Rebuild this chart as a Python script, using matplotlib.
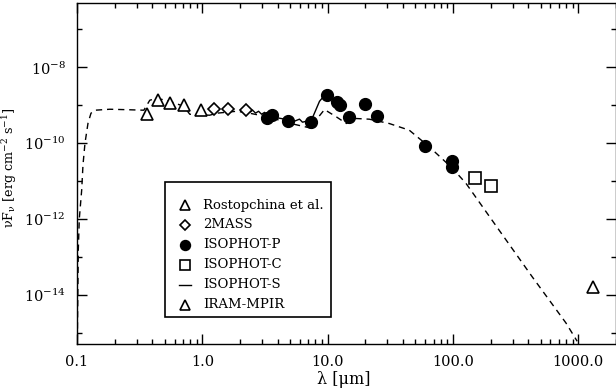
import matplotlib

matplotlib.use("Agg")

import matplotlib.pyplot as plt
from matplotlib.lines import Line2D
from matplotlib.patches import Rectangle
from matplotlib.ticker import FixedLocator, FixedFormatter, LogLocator, NullFormatter

# photometry (wavelength in micron, nuF_nu in erg cm^-2 s^-1)
rost_wl = [0.36, 0.44, 0.55, 0.71, 0.97]
rost_flux = [5.8e-10, 1.41e-9, 1.17e-9, 1.02e-9, 7.4e-10]

tmass_wl = [1.24, 1.59, 2.23]
tmass_flux = [7.85e-10, 8.0e-10, 7.4e-10]

isop_wl = [3.3, 3.6, 4.8, 7.3, 9.9, 11.9, 12.6, 14.9, 19.9, 24.8, 59.7, 99.0, 99.0]
isop_flux = [4.5e-10, 5.5e-10, 3.8e-10, 3.6e-10, 1.9e-9, 1.23e-9, 1.04e-9,
             4.9e-10, 1.11e-9, 5.1e-10, 8.5e-11, 3.4e-11, 2.3e-11]

isoc_wl = [150.0, 200.0]
isoc_flux = [1.17e-11, 7.4e-12]

iram_wl = [1300.0]
iram_flux = [1.55e-14]

# ISOPHOT-S spectrum
spec_wl = [2.18, 2.38, 2.52, 2.66, 2.81, 2.97, 3.14, 3.32, 3.57, 3.77, 4.13, 4.53,
           4.97, 5.44, 5.96, 6.30, 6.78, 7.30, 7.85, 8.61, 9.44, 9.96, 11.3]
spec_flux = [7.4e-10, 6.5e-10, 7.4e-10, 6.2e-10, 6.95e-10, 5.8e-10, 6.5e-10,
             5.1e-10, 5.8e-10, 4.8e-10, 4.55e-10, 4.3e-10, 3.8e-10, 3.8e-10,
             4.3e-10, 3.57e-10, 3.8e-10, 3.57e-10, 6.2e-10, 1.27e-9, 1.83e-9,
             1.95e-9, 1.35e-9]

# model SED (dashed)
model_wl = [0.1006, 0.1024, 0.1043, 0.109, 0.1116, 0.1158, 0.1224, 0.1293, 0.139,
            0.183, 0.264, 0.3415, 0.381, 0.434, 0.550, 0.711, 0.794, 1.145, 1.302,
            1.879, 2.385, 3.44, 4.96, 7.57, 8.30, 9.44, 11.76, 14.1, 16.9, 21.5,
            31.0, 44.8, 64.7, 98.6, 127.0, 233.0, 428.0, 797.0, 980.0]
model_flux = [6.5e-16, 1.53e-13, 1.0e-12, 5.8e-12, 2.64e-11, 1.0e-10, 3.36e-10,
              6.17e-10, 7.4e-10, 7.85e-10, 7.6e-10, 7.4e-10, 1.36e-9, 1.53e-9,
              1.27e-9, 9.4e-10, 5.8e-10, 5.46e-10, 6.17e-10, 6.95e-10, 6.17e-10,
              4.83e-10, 3.36e-10, 2.44e-10, 4.55e-10, 7.7e-10, 4.92e-10, 3.3e-10,
              4.47e-10, 4.29e-10, 3.3e-10, 2.2e-10, 8.0e-11, 2.2e-11, 8.7e-12,
              5.1e-13, 3.0e-14, 1.8e-15, 5.9e-16]

x_ticks = [0.1, 1.0, 10.0, 100.0, 1000.0]
x_ticklabels = ["0.1", "1.0", "10.0", "100.0", "1000.0"]
y_ticks = [1e-14, 1e-12, 1e-10, 1e-8]
y_ticklabels = [r"10$^{\mathregular{-14}}$", r"10$^{\mathregular{-12}}$",
                r"10$^{\mathregular{-10}}$", r"10$^{\mathregular{-8}}$"]

legend_labels = ["Rostopchina et al.", "2MASS", "ISOPHOT-P", "ISOPHOT-C",
                 "ISOPHOT-S", "IRAM-MPIR"]

plt.rcParams.update(
    {
        "font.family": "DejaVu Serif",
        "mathtext.fontset": "dejavuserif",
        "font.size": 10,
    }
)

fig = plt.figure(figsize=(6.16, 3.89), dpi=100, facecolor="white")
ax = fig.add_axes([77 / 616, 1 - 344 / 389, 539 / 616, 341 / 389])

ax.plot(model_wl, model_flux, ls=(0, (4.5, 3.5)), color="black", lw=1.0)
ax.plot(spec_wl, spec_flux, ls="-", color="black", lw=1.0)

open_kw = dict(ls="none", mfc="white", mec="black", mew=1.2)
ax.plot(rost_wl, rost_flux, marker="^", ms=9, **open_kw)
ax.plot(tmass_wl, tmass_flux, marker="D", ms=6.5, **open_kw)
ax.plot(isop_wl, isop_flux, marker="o", ls="none", ms=8.5, color="black")
ax.plot(isoc_wl, isoc_flux, marker="s", ms=8, **open_kw)
ax.plot(iram_wl, iram_flux, marker="^", ms=9, **open_kw)

ax.set_xscale("log")
ax.set_yscale("log")
ax.set_xlim(0.1, 2000)
ax.set_ylim(5e-16, 5e-7)

ax.xaxis.set_major_locator(FixedLocator(x_ticks))
ax.xaxis.set_major_formatter(FixedFormatter(x_ticklabels))
ax.xaxis.set_minor_locator(LogLocator(base=10, subs=range(2, 10)))
ax.xaxis.set_minor_formatter(NullFormatter())
ax.yaxis.set_major_locator(FixedLocator(y_ticks))
ax.yaxis.set_major_formatter(FixedFormatter(y_ticklabels))
ax.yaxis.set_minor_locator(FixedLocator([1e-15, 1e-13, 1e-11, 1e-9, 1e-7]))
ax.yaxis.set_minor_formatter(NullFormatter())

ax.tick_params(which="both", direction="in", top=True, right=True, width=1.0,
               labelsize=10.5)
ax.tick_params(which="major", length=7.2, pad=8)
ax.tick_params(which="minor", length=3.6)
for sp in ax.spines.values():
    sp.set_linewidth(1.0)

ax.set_xlabel("λ [μm]", fontsize=11.5)
ax.xaxis.set_label_coords(0.495, -0.078)
ax.set_ylabel(r"νF$_{\mathregular{ν}}$ [erg cm$^{\mathregular{-2}}$ s$^{\mathregular{-1}}$]",
              fontsize=9.2)
ax.yaxis.set_label_coords(-0.108, (344 - 168) / 341)

# hand-placed legend box
bx0, by0 = (165 - 77) / 539, (344 - 317) / 341
bx1, by1 = (331 - 77) / 539, (344 - 182) / 341
ax.add_patch(Rectangle((bx0, by0), bx1 - bx0, by1 - by0, transform=ax.transAxes,
                       fill=False, edgecolor="black", lw=1.2, zorder=5))
handles = [
    Line2D([], [], marker="^", ms=7, **open_kw),
    Line2D([], [], marker="D", ms=5, **open_kw),
    Line2D([], [], marker="o", ls="none", ms=7, color="black"),
    Line2D([], [], marker="s", ms=6.5, **open_kw),
    Line2D([], [], ls="-", color="black", lw=1.0),
    Line2D([], [], marker="^", ms=7, **open_kw),
]
mx = (185 - 77) / 539
tx = (203 - 77) / 539
for i, (h, lab) in enumerate(zip(handles, legend_labels)):
    yy = (344 - (205 + 20 * i)) / 341
    if h.get_marker() in (None, "None", ""):
        ax.plot([mx - 0.012, mx + 0.012], [yy, yy], transform=ax.transAxes,
                color="black", lw=1.0, zorder=6)
    else:
        ax.plot([mx], [yy], transform=ax.transAxes, marker=h.get_marker(),
                ms=h.get_markersize(), ls="none", mfc=h.get_markerfacecolor(),
                mec="black", mew=1.2, zorder=6)
    ax.text(tx, yy, lab, transform=ax.transAxes, fontsize=9.5, va="center",
            ha="left", zorder=6)

fig.savefig("out.png", dpi=100, facecolor="white")
